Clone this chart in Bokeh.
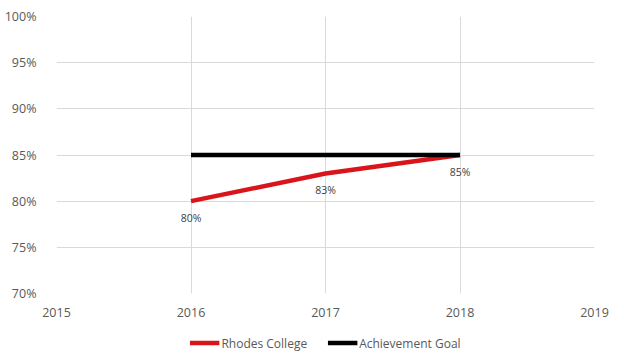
from bokeh.plotting import figure
from bokeh.layouts import column
from bokeh.models import Legend, LegendItem, PrintfTickFormatter, FixedTicker, ColumnDataSource, Range1d
from bokeh.core.properties import value
from bokeh.embed import file_html
from bokeh.resources import INLINE

years = [2016, 2017, 2018]
rhodes = [80, 83, 85]
goal = [85, 85, 85]
x_ticks = [2015, 2016, 2017, 2018, 2019]
y_ticks = [70, 75, 80, 85, 90, 95, 100]
labels = [f"{v}%" for v in rhodes]
series_names = ["Rhodes College", "Achievement Goal"]
series_colors = ["#d9151b", "black"]

FONT = "Open Sans"
TXT = "#595959"

p = figure(frame_width=538, frame_height=277, output_backend="svg", toolbar_location=None,
           x_range=Range1d(2015, 2019), y_range=Range1d(70, 100),
           min_border_left=56, min_border_right=30, min_border_top=16, min_border_bottom=30)
p.outline_line_color = None
p.background_fill_color = "white"
p.border_fill_color = "white"

for ax in (p.xaxis[0], p.yaxis[0]):
    ax.axis_line_color = None
    ax.major_tick_line_color = None
    ax.minor_tick_line_color = None
    ax.major_label_text_font = FONT
    ax.major_label_text_font_size = "12.5px"
    ax.major_label_text_color = TXT
p.xaxis.ticker = FixedTicker(ticks=x_ticks)
p.yaxis.ticker = FixedTicker(ticks=y_ticks)
p.yaxis.formatter = PrintfTickFormatter(format="%d%%")
p.xaxis.major_label_standoff = 8
p.yaxis.major_label_standoff = 14

p.xgrid.grid_line_color = "#d9d9d9"
p.ygrid.grid_line_color = "#d9d9d9"
p.xgrid.ticker = FixedTicker(ticks=x_ticks)
p.ygrid.ticker = FixedTicker(ticks=y_ticks)

src = ColumnDataSource(dict(x=years, r=rhodes, g=goal, lab=labels))
p.line("x", "r", source=src, line_color=series_colors[0], line_width=4.5)
p.line("x", "g", source=src, line_color=series_colors[1], line_width=4.5)
p.text("x", "r", text="lab", source=src, text_font=value(FONT), text_font_size="10.5px",
       text_color="#404040", text_align="center", text_baseline="middle", y_offset=17)

# legend strip below the chart (its lines fall outside this strip's ranges, so only the legend shows)
p2 = figure(width=624, height=39, output_backend="svg", toolbar_location=None,
            x_range=Range1d(0, 1), y_range=Range1d(0, 1),
            x_axis_location=None, y_axis_location=None,
            min_border_left=0, min_border_right=26, min_border_top=0, min_border_bottom=0)
p2.outline_line_color = None
p2.grid.visible = False
items = []
for name, col, ycol in zip(series_names, series_colors, ["r", "g"]):
    rr = p2.line("x", ycol, source=src, line_color=col, line_width=4.5)
    items.append(LegendItem(label=name, renderers=[rr]))
legend = Legend(items=items, orientation="horizontal", location="center",
                label_text_font=FONT, label_text_font_size="12px", label_text_color=TXT,
                border_line_color=None, background_fill_alpha=0,
                glyph_width=30, glyph_height=16, label_standoff=2, spacing=20, padding=2, margin=0)
p2.add_layout(legend, "center")

layout = column(p, p2, spacing=0)
open("out.html", "w").write(file_html(layout, INLINE))
